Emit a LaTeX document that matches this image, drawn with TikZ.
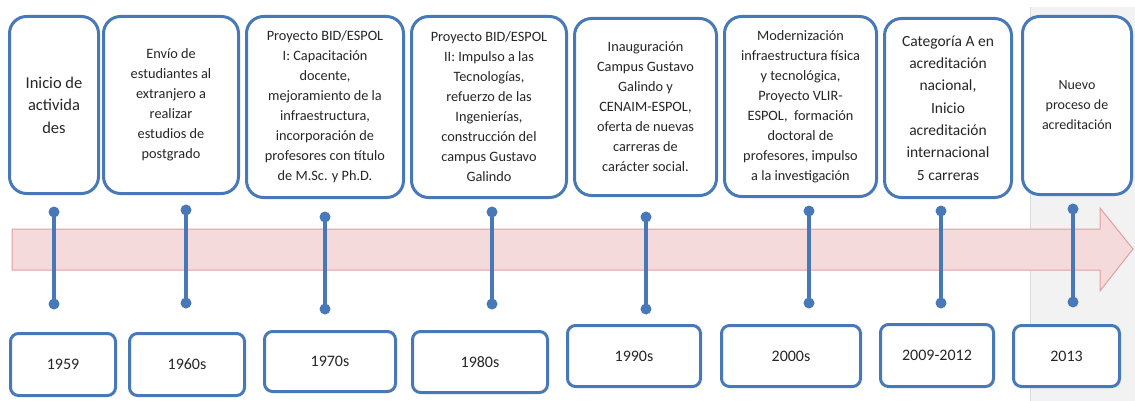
\documentclass[tikz,border=0pt]{standalone}
\usepackage{tikz}
\usepackage{fontspec}
\setmainfont{Carlito}
\definecolor{azul}{HTML}{4779B8}
\definecolor{rosa}{HTML}{F5DADB}
\definecolor{rosaborde}{HTML}{E0A0A0}
\definecolor{grisfondo}{HTML}{F2F2F2}
\definecolor{grisborde}{HTML}{DCDCDC}
\definecolor{texto}{HTML}{262626}
\tikzset{
    caja/.style={draw=azul,line width=3pt,fill=white,rounded corners=17pt,align=center,text=texto,inner sep=2pt,font=\fontsize{14.3}{20}\selectfont},
    fecha/.style={draw=azul,line width=3pt,fill=white,rounded corners=8pt,align=center,text=texto,inner sep=2pt,font=\fontsize{16}{19}\selectfont},
    tallo/.style={draw=azul,line width=3.4pt},
  }

\begin{document}
\begin{tikzpicture}[x=1pt,y=-1pt]
	\useasboundingbox (0,0) rectangle (1135,401);

	%FONDO GRIS 2013
	\fill[grisfondo] (1030,7) rectangle (1135,401);
	\draw[grisborde,line width=0.6pt] (1030,7) -- (1030,401);

	%FLECHA
	\filldraw[fill=rosa,draw=rosaborde,line width=1pt] (12,229) -- (1100,229) -- (1100,208) -- (1133,249) -- (1100,291) -- (1100,270) -- (12,270) -- cycle;

	%HITOS
	\node[caja,minimum width=89pt,minimum height=177pt,font=\fontsize{16.5}{22.5}\selectfont] (h1) at (54,105) {Inicio de\\activida\\des};
	\node[caja,minimum width=135pt,minimum height=177pt] (h2) at (171,105) {Envío de\\estudiantes al\\extranjero a\\realizar\\estudios de\\postgrado};
	\node[caja,minimum width=157pt,minimum height=181pt] (h3) at (325,107) {Proyecto BID/ESPOL\\I: Capacitación\\docente,\\mejoramiento de la\\infraestructura,\\incorporación de\\profesores con título\\de M.Sc. y Ph.D.};
	\node[caja,minimum width=155pt,minimum height=181pt] (h4) at (489,107) {Proyecto BID/ESPOL\\II: Impulso a las\\Tecnologías,\\refuerzo de las\\Ingenierías,\\construcción del\\campus Gustavo\\Galindo};
	\node[caja,minimum width=142pt,minimum height=177pt] (h5) at (645.5,107) {Inauguración\\Campus Gustavo\\Galindo y\\CENAIM-ESPOL,\\oferta de nuevas\\carreras de\\carácter social.};
	\node[caja,minimum width=152pt,minimum height=180pt] (h6) at (800.5,106.5) {Modernización\\infraestructura física\\y tecnológica,\\Proyecto VLIR-\\ESPOL,\ \ formación\\doctoral de\\profesores, impulso\\a la investigación};
	\node[caja,minimum width=127pt,minimum height=179pt,font=\fontsize{15.5}{22.3}\selectfont] (h7) at (948,108) {Categoría A en\\acreditación\\nacional,\\Inicio\\acreditación\\internacional\\5 carreras};
	\node[caja,minimum width=109pt,minimum height=178pt,font=\fontsize{14}{20}\selectfont] (h8) at (1077,105.5) {Nuevo\\proceso de\\acreditación};

	%TALLOS
	\coordinate (s1) at (54,212);   \coordinate (i1) at (54,304);
	\coordinate (s2) at (186,210);  \coordinate (i2) at (186,303);
	\coordinate (s3) at (325,217);  \coordinate (i3) at (325,309);
	\coordinate (s4) at (492,212);  \coordinate (i4) at (492,304);
	\coordinate (s5) at (646,217);  \coordinate (i5) at (646,309);
	\coordinate (s6) at (809,211);  \coordinate (i6) at (809,303);
	\coordinate (s7) at (941,211);  \coordinate (i7) at (941,303);
	\coordinate (s8) at (1073,209); \coordinate (i8) at (1073,302);
	\draw[tallo] (s1) -- (i1);
	\draw[tallo] (s2) -- (i2);
	\draw[tallo] (s3) -- (i3);
	\draw[tallo] (s4) -- (i4);
	\draw[tallo] (s5) -- (i5);
	\draw[tallo] (s6) -- (i6);
	\draw[tallo] (s7) -- (i7);
	\draw[tallo] (s8) -- (i8);
	\fill[azul] (s1) circle (5.5pt) (i1) circle (5.5pt) (s2) circle (5.5pt) (i2) circle (5.5pt);
	\fill[azul] (s3) circle (5.5pt) (i3) circle (5.5pt) (s4) circle (5.5pt) (i4) circle (5.5pt);
	\fill[azul] (s5) circle (5.5pt) (i5) circle (5.5pt) (s6) circle (5.5pt) (i6) circle (5.5pt);
	\fill[azul] (s7) circle (5.5pt) (i7) circle (5.5pt) (s8) circle (5.5pt) (i8) circle (5.5pt);

	%FECHAS
	\node[fecha,minimum width=105pt,minimum height=62pt] (f1) at (63,364.5) {1959};
	\node[fecha,minimum width=115pt,minimum height=62pt] (f2) at (187,364.5) {1960s};
	\node[fecha,minimum width=131pt,minimum height=60pt] (f3) at (330,361.5) {1970s};
	\node[fecha,minimum width=135pt,minimum height=61pt] (f4) at (480,362) {1980s};
	\node[fecha,minimum width=133pt,minimum height=61pt] (f5) at (634,356) {1990s};
	\node[fecha,minimum width=139pt,minimum height=61pt] (f6) at (791,356) {2000s};
	\node[fecha,minimum width=113pt,minimum height=62pt] (f7) at (937,355.5) {2009-2012};
	\node[fecha,minimum width=106pt,minimum height=61pt] (f8) at (1066.5,356) {2013};
\end{tikzpicture}
\end{document}
